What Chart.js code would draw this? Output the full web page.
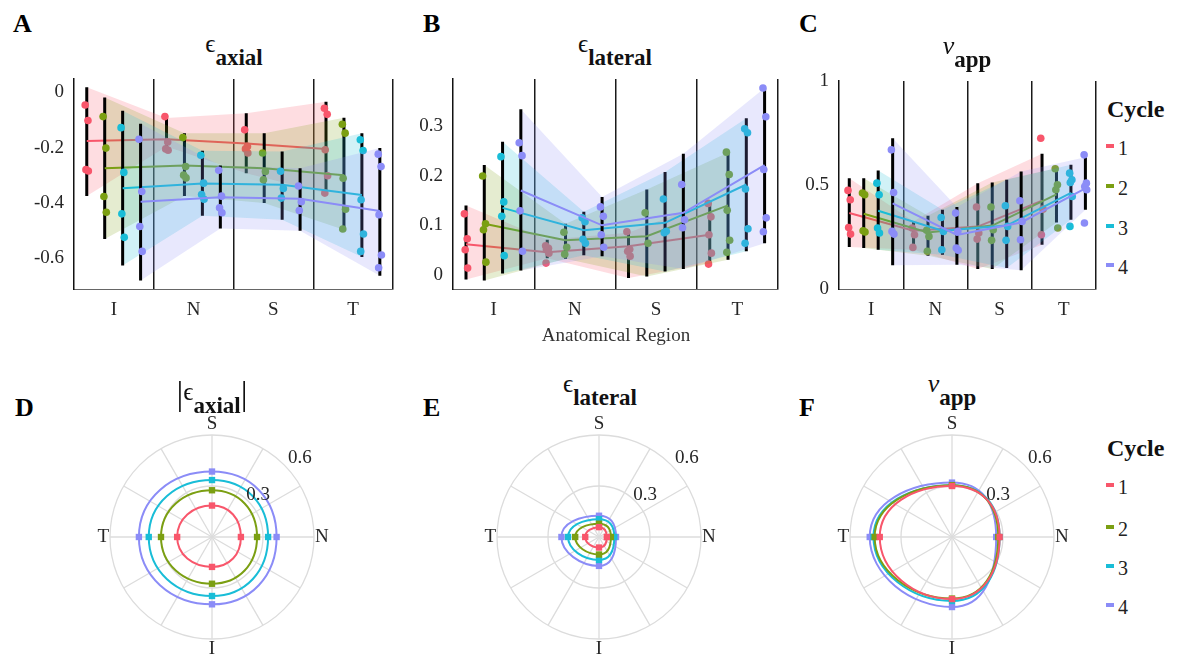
<!DOCTYPE html>
<html>
<head>
<meta charset="utf-8">
<script src="https://cdn.jsdelivr.net/npm/chart.js@4.4.1/dist/chart.umd.min.js"></script>
<style>
  body { margin: 0; background: #fff; }
  #fig { position: relative; width: 1177px; height: 660px; background: #fff; font-family: "Liberation Serif", "DejaVu Serif", serif; color: #1a1a1a; overflow: hidden; }
  #fig canvas { position: absolute; }
  .txt { position: absolute; line-height: 1; white-space: nowrap; }
  .letter { font-weight: bold; font-size: 26px; color: #000; }
  .title { transform: translateX(-50%); font-size: 25px; color: #111; }
  .title i { font-size: 26px; }
  .title b { font-size: 23px; position: relative; top: 13px; }
  .title .pipe { font-size: 34px; position: relative; top: 5px; font-weight: normal; }
  .cyc { font-weight: bold; font-size: 24px; color: #111; }
  .num { font-size: 20px; color: #222; }
  .sw { position: absolute; width: 8px; height: 4px; }
  .xlab { font-size: 19px; color: #333; transform: translateX(-50%); }
</style>
</head>
<body>
<div id="fig">
  <canvas id="cA" width="390" height="262" style="left:10px;top:70px;width:390px;height:262px"></canvas>
  <canvas id="cB" width="385" height="262" style="left:400px;top:70px;width:385px;height:262px"></canvas>
  <canvas id="cC" width="318" height="262" style="left:785px;top:70px;width:318px;height:262px"></canvas>
  <canvas id="cD" width="244" height="244" style="left:92px;top:415px;width:244px;height:244px"></canvas>
  <canvas id="cE" width="244" height="244" style="left:479px;top:415px;width:244px;height:244px"></canvas>
  <canvas id="cF" width="244" height="244" style="left:832px;top:415px;width:244px;height:244px"></canvas>

  <div class="txt letter" style="left:13px;top:11px">A</div>
  <div class="txt letter" style="left:423px;top:11px">B</div>
  <div class="txt letter" style="left:799px;top:11px">C</div>
  <div class="txt letter" style="left:15px;top:395px">D</div>
  <div class="txt letter" style="left:423px;top:395px">E</div>
  <div class="txt letter" style="left:799px;top:395px">F</div>

  <div class="txt title" style="left:234px;top:31px">ϵ<b>axial</b></div>
  <div class="txt title" style="left:615px;top:31px">ϵ<b>lateral</b></div>
  <div class="txt title" style="left:967px;top:33px"><i>ν</i><b>app</b></div>
  <div class="txt title" style="left:212px;top:372px"><span class="pipe">|</span>ϵ<b>axial</b><span class="pipe">|</span></div>
  <div class="txt title" style="left:600px;top:371px">ϵ<b>lateral</b></div>
  <div class="txt title" style="left:952px;top:371px"><i>ν</i><b>app</b></div>

  <div class="txt xlab" style="left:616px;top:325px">Anatomical Region</div>

  <div id="legC"></div>
  <div id="legF"></div>
</div>
<script>
// regions, cycles and colours
const regions = ['I', 'N', 'S', 'T'];
const cycleNames = ['1', '2', '3', '4'];
const cycleColors = ['#f8566b', '#7b9f12', '#19bdd7', '#8b8cf7'];
const barOffsets = [0.16, 0.385, 0.61, 0.835];   // bar position inside a region, per cycle
const jitter = [-0.02, 0.015, -0.01, 0.02, -0.015];
const xTicks = [0.5, 1, 1.5, 2, 2.5, 3, 3.5, 4];

// A: axial strain, error bar extents / fits / samples (per cycle, regions I N S T)
const axialLo = [
  [-0.375, -0.196, -0.293, -0.365],
  [-0.531, -0.375, -0.401, -0.498],
  [-0.627, -0.447, -0.461, -0.596],
  [-0.681, -0.493, -0.501, -0.664]];
const axialHi = [
  [0.018, -0.093, -0.076, -0.034],
  [-0.019, -0.148, -0.148, -0.092],
  [-0.067, -0.212, -0.214, -0.148],
  [-0.114, -0.265, -0.275, -0.202]];
const axialFit = [
  [-0.176, -0.17, -0.185, -0.205],
  [-0.275, -0.265, -0.275, -0.30],
  [-0.347, -0.33, -0.335, -0.372],
  [-0.396, -0.38, -0.385, -0.43]];
const axialPts = [
  [[-0.046, -0.102, -0.28, -0.285], [-0.088, -0.18, -0.205, -0.21], [-0.136, -0.196, -0.205, -0.22], [-0.058, -0.08, -0.208, -0.302, -0.365]],
  [[-0.088, -0.202, -0.377, -0.434], [-0.164, -0.269, -0.3, -0.31], [-0.22, -0.287, -0.317], [-0.116, -0.148, -0.311, -0.423, -0.495]],
  [[-0.128, -0.29, -0.44, -0.525], [-0.228, -0.329, -0.37, -0.387], [-0.286, -0.348, -0.383], [-0.172, -0.211, -0.389, -0.513, -0.576]],
  [[-0.17, -0.359, -0.486, -0.576], [-0.282, -0.376, -0.418, -0.436], [-0.339, -0.396, -0.428], [-0.224, -0.269, -0.443, -0.589, -0.635]]];
const axialTicks = [0, -0.2, -0.4, -0.6];
const axialTickLabels = ['0', '-0.2', '-0.4', '-0.6'];

// B: lateral strain
const latLo = [
  [-0.009, 0.034, -0.006, 0.024],
  [-0.011, 0.033, -0.003, 0.031],
  [0.003, 0.04, 0.007, 0.048],
  [0.009, 0.038, 0.012, 0.064]];
const latHi = [
  [0.14, 0.071, 0.085, 0.148],
  [0.221, 0.103, 0.172, 0.246],
  [0.268, 0.127, 0.207, 0.315],
  [0.333, 0.157, 0.244, 0.376]];
const latFit = [
  [0.062, 0.046, 0.058, 0.081],
  [0.103, 0.07, 0.078, 0.14],
  [0.135, 0.09, 0.105, 0.182],
  [0.17, 0.1, 0.125, 0.221]];
const latPts = [
  [[0.123, 0.073, 0.051, 0.014], [0.059, 0.054, 0.051, 0.044, 0.024], [0.087, 0.052, 0.048, 0.038], [0.144, 0.117, 0.081, 0.044, 0.022]],
  [[0.199, 0.103, 0.091, 0.026], [0.086, 0.056, 0.042], [0.125, 0.064], [0.247, 0.202, 0.13, 0.07, 0.046]],
  [[0.238, 0.147, 0.118, 0.039], [0.115, 0.107, 0.072, 0.064], [0.153, 0.088, 0.085], [0.294, 0.286, 0.173, 0.093, 0.064]],
  [[0.266, 0.24, 0.129, 0.048], [0.137, 0.118, 0.081, 0.056], [0.182, 0.111, 0.095], [0.376, 0.318, 0.212, 0.115, 0.087]]];
const latTicks = [0, 0.1, 0.2, 0.3];
const latTickLabels = ['0', '0.1', '0.2', '0.3'];

// C: apparent Poisson's ratio
const nuLo = [
  [0.202, 0.189, 0.096, 0.213],
  [0.197, 0.16, 0.096, 0.32],
  [0.189, 0.165, 0.101, 0.333],
  [0.114, 0.117, 0.09, 0.381]];
const nuHi = [
  [0.533, 0.325, 0.509, 0.65],
  [0.533, 0.352, 0.512, 0.581],
  [0.57, 0.381, 0.525, 0.597],
  [0.725, 0.394, 0.565, 0.634]];
const nuFit = [
  [0.365, 0.28, 0.30, 0.425],
  [0.362, 0.272, 0.305, 0.455],
  [0.376, 0.28, 0.305, 0.462],
  [0.412, 0.26, 0.32, 0.484]];
const nuPts = [
  [[0.474, 0.429, 0.296, 0.264], [0.293, 0.261, 0.2], [0.394, 0.269, 0.24], [0.725, 0.384, 0.261]],
  [[0.461, 0.453, 0.28, 0.274], [0.282, 0.253, 0.181], [0.394, 0.285, 0.234], [0.578, 0.501, 0.477, 0.293]],
  [[0.509, 0.453, 0.293, 0.269], [0.344, 0.277, 0.189], [0.4, 0.301, 0.234], [0.557, 0.525, 0.512, 0.445, 0.301]],
  [[0.669, 0.464, 0.277, 0.264], [0.365, 0.277, 0.197, 0.186], [0.424, 0.325, 0.237], [0.645, 0.509, 0.493, 0.477, 0.317]]];
const nuTicks = [0, 0.5, 1];
const nuTickLabels = ['0', '0.5', '1'];

// polar panels: 12 spokes, region labels on four of them
const polarLabels = ['S', '', '', 'N', '', '', 'I', '', '', 'T', '', ''];
const polarSlot = { S: 0, N: 3, I: 6, T: 9 };
const polarTickVals = [0.3, 0.6];
const polarTickText = ['0.3', '0.6'];
const polarTickAngle = 48;

Chart.defaults.font.family = '"Liberation Serif", "DejaVu Serif", serif';
const tickFont = { size: 19 };
const tickColor = '#262626';

function fade(hex, a) {
  const n = parseInt(hex.slice(1), 16);
  return `rgba(${n >> 16},${(n >> 8) & 255},${n & 255},${a})`;
}

function buildTop(id, lo, hi, fit, pts, yMin, yMax, yVals, yLabels, yWidth, padTop) {
  const datasets = [];
  cycleNames.forEach((name, c) => {
    const col = cycleColors[c];
    const xs = regions.map((r, i) => i + barOffsets[c]);
    // shaded band between bar extents
    datasets.push({ data: xs.map((x, i) => ({ x, y: lo[c][i] })), borderWidth: 0, pointRadius: 0, fill: false });
    datasets.push({ data: xs.map((x, i) => ({ x, y: hi[c][i] })), borderWidth: 0, pointRadius: 0, fill: '-1', backgroundColor: fade(col, 0.2) });
    // error bars
    const bars = [];
    xs.forEach((x, i) => bars.push({ x, y: lo[c][i] }, { x, y: hi[c][i] }, { x, y: null }));
    datasets.push({ data: bars, borderColor: '#000', borderWidth: 3, pointRadius: 0, spanGaps: false, borderCapStyle: 'butt' });
    // trend line
    datasets.push({ data: xs.map((x, i) => ({ x, y: fit[c][i] })), borderColor: col, borderWidth: 2, pointRadius: 0 });
    // samples
    const dots = [];
    pts[c].forEach((vals, i) => vals.forEach((v, k) => dots.push({ x: xs[i] + jitter[k], y: v })));
    datasets.push({ data: dots, showLine: false, pointRadius: 3.8, pointBackgroundColor: col, pointBorderWidth: 0 });
  });
  datasets.forEach((d, i) => { d.order = datasets.length - i; });

  new Chart(document.getElementById(id), {
    type: 'line',
    data: { datasets },
    options: {
      responsive: false, devicePixelRatio: 1, animation: false,
      layout: { padding: { left: 0, top: padTop, right: 7, bottom: 0 } },
      plugins: { legend: { display: false }, tooltip: { enabled: false } },
      scales: {
        x: {
          type: 'linear', min: 0, max: 4,
          afterBuildTicks: s => { s.ticks = xTicks.map(v => ({ value: v })); },
          afterFit: s => { s.height = 43; s.paddingLeft = 0; s.paddingRight = 0; },
          ticks: {
            autoSkip: false, maxRotation: 0, padding: 10, font: tickFont, color: tickColor,
            callback: v => Number.isInteger(v) ? '' : regions[Math.floor(v)]
          },
          grid: {
            drawTicks: false, lineWidth: 1.5,
            color: ctx => (ctx.tick && Number.isInteger(ctx.tick.value)) ? '#1a1a1a' : 'rgba(0,0,0,0)'
          },
          border: { color: '#666', width: 1 }
        },
        y: {
          min: yMin, max: yMax,
          afterBuildTicks: s => { s.ticks = yVals.map(v => ({ value: v })); },
          afterFit: s => { s.width = yWidth; s.paddingTop = 0; s.paddingBottom = 0; },
          ticks: { padding: 10, font: tickFont, color: tickColor, callback: (v, i) => yLabels[i] },
          grid: { display: false, drawTicks: false },
          border: { color: '#111', width: 1.5 }
        }
      }
    }
  });
}

const polarTickPlugin = {
  id: 'polarTicks',
  afterDraw(chart) {
    const s = chart.scales.r;
    const ctx = chart.ctx;
    const a = polarTickAngle * Math.PI / 180;
    ctx.save();
    ctx.font = '19px "Liberation Serif", serif';
    ctx.fillStyle = tickColor;
    ctx.textAlign = 'center';
    ctx.textBaseline = 'middle';
    polarTickVals.forEach((v, i) => {
      const d = s.getDistanceFromCenterForValue(v) * 1.1 + 6;
      ctx.fillText(polarTickText[i], s.xCenter + d * Math.sin(a), s.yCenter - d * Math.cos(a));
    });
    ctx.restore();
  }
};

function buildPolar(id, vals) {
  const datasets = cycleNames.map((name, c) => {
    const data = polarLabels.map(() => null);
    regions.forEach((r, i) => { data[polarSlot[r]] = Math.abs(vals[c][i]); });
    return {
      label: name, data, borderColor: cycleColors[c], borderWidth: 2, fill: false,
      pointStyle: 'rect', pointRadius: 4.5, pointBackgroundColor: cycleColors[c], pointBorderWidth: 0,
      tension: 0.58, spanGaps: true
    };
  });
  new Chart(document.getElementById(id), {
    type: 'radar',
    data: { labels: polarLabels, datasets },
    options: {
      responsive: false, devicePixelRatio: 1, animation: false,
      plugins: { legend: { display: false }, tooltip: { enabled: false } },
      scales: {
        r: {
          min: 0, max: 0.6,
          ticks: { display: false, stepSize: 0.3 },
          grid: { circular: true, color: '#dcdcdc', lineWidth: 1.3 },
          angleLines: { color: '#dcdcdc', lineWidth: 1.3 },
          pointLabels: { padding: 1, color: tickColor, font: { size: 19, lineHeight: 1 } }
        }
      }
    },
    plugins: [polarTickPlugin]
  });
}

buildTop('cA', axialLo, axialHi, axialFit, axialPts, -0.712, 0.048, axialTicks, axialTickLabels, 64, 9);
buildTop('cB', latLo, latHi, latFit, latPts, -0.028, 0.394, latTicks, latTickLabels, 53, 9);
buildTop('cC', nuLo, nuHi, nuFit, nuPts, 0, 1, nuTicks, nuTickLabels, 54, 11);

buildPolar('cD', axialFit);
buildPolar('cE', latFit);
buildPolar('cF', nuFit);

// legends
function legend(elId, cycleTop, itemY) {
  const el = document.getElementById(elId);
  let html = `<div class="txt cyc" style="left:1107px;top:${cycleTop}px">Cycle</div>`;
  cycleNames.forEach((name, c) => {
    html += `<div class="sw" style="left:1106px;top:${itemY[c] - 4}px;background:${cycleColors[c]}"></div>`;
    html += `<div class="txt num" style="left:1118px;top:${itemY[c] - 10}px">${name}</div>`;
  });
  el.innerHTML = html;
}
legend('legC', 97, [148, 188, 228, 267]);
legend('legF', 436, [487, 529, 568, 607]);
</script>
</body>
</html>
